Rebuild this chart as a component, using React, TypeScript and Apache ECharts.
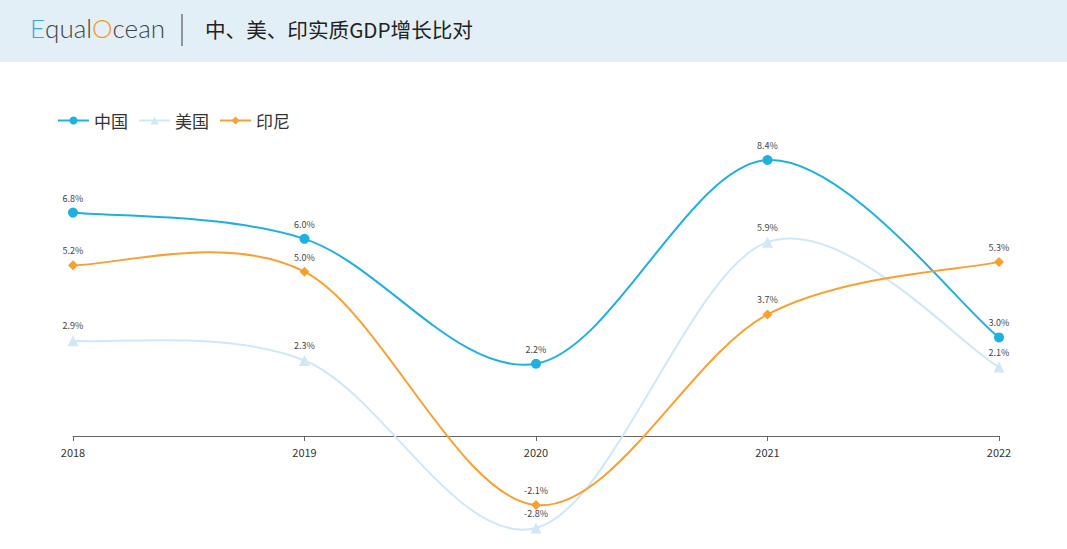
import React, { useEffect, useRef } from "react";
import * as echarts from "echarts";

const years = ["2018", "2019", "2020", "2021", "2022"];
const china = [6.8, 6.0, 2.2, 8.4, 3.0];
const usa = [2.9, 2.3, -2.8, 5.9, 2.1];
const indonesia = [5.2, 5.0, -2.1, 3.7, 5.3];
const seriesNames = ["中国", "美国", "印尼"];
const title = "中、美、印实质GDP增长比对";

const colors = ["#1fb0e0", "#cfe8f5", "#f8a030"];
const symbols = ["circle", "triangle", "diamond"];
const symbolSizes = [10, 11, 10];

export default function App() {
  const ref = useRef<HTMLDivElement>(null);
  useEffect(() => {
    const chart = echarts.init(ref.current!, null, { renderer: "svg" });
    const font = "'Noto Sans CJK SC', 'Open Sans', sans-serif";
    const label = {
      show: true,
      position: "top" as const,
      fontSize: 9,
      color: "#444",
      fontFamily: font,
      formatter: (p: any) => p.value.toFixed(1) + "%",
    };
    const yMin = -3;
    const yMax = 9;
    const gridTop = 140.3;
    const gridBottom = 14.4;
    const gridH = 549 - gridTop - gridBottom;
    const zeroOffset = (gridH * (0 - yMin)) / (yMax - yMin);
    const allData = [china, usa, indonesia];

    const curveSeries = allData.map((vals, s) => ({
      name: seriesNames[s] + "-curve",
      type: "custom",
      z: 1,
      silent: true,
      clip: false,
      data: vals.slice(0, -1).map((_, i) => [i]),
      encode: { x: 0 },
      renderItem: (params: any, api: any) => {
        const i = api.value(0);
        const pts = vals.map((v, k) => api.coord([k, v]));
        const n = pts.length;
        const p0 = pts[Math.max(i - 1, 0)];
        const p1 = pts[i];
        const p2 = pts[i + 1];
        const p3 = pts[Math.min(i + 2, n - 1)];
        return {
          type: "bezierCurve",
          shape: {
            x1: p1[0],
            y1: p1[1],
            x2: p2[0],
            y2: p2[1],
            cpx1: p1[0] + (p2[0] - p0[0]) / 6,
            cpy1: p1[1] + (p2[1] - p0[1]) / 6,
            cpx2: p2[0] - (p3[0] - p1[0]) / 6,
            cpy2: p2[1] - (p3[1] - p1[1]) / 6,
          },
          style: { stroke: colors[s], lineWidth: 2, fill: null },
        };
      },
    }));

    const pointSeries = allData.map((vals, s) => ({
      name: seriesNames[s],
      type: "line",
      z: 3,
      data: vals,
      symbol: symbols[s],
      symbolSize: symbolSizes[s],
      itemStyle: { color: colors[s] },
      lineStyle: { color: colors[s], width: 2, opacity: 0 },
      label,
    }));

    chart.setOption({
      animation: false,
      backgroundColor: "#fff",
      textStyle: { fontFamily: font },
      graphic: [
        { type: "rect", left: 0, top: 0, shape: { width: 1067, height: 62 }, style: { fill: "#e2eff7" }, silent: true },
        {
          type: "text",
          left: 30,
          top: 15,
          style: {
            text: "{e|E}{g|qual}{o|O}{g|cean}",
            rich: {
              e: { fontSize: 26, fontFamily: "Lato", fontWeight: 300, fill: "#3aa8e0" },
              g: { fontSize: 26, fontFamily: "Lato", fontWeight: 300, fill: "#444" },
              o: { fontSize: 26, fontFamily: "Lato", fontWeight: 300, fill: "#f39a2b" },
            },
          },
        },
        { type: "line", shape: { x1: 182, y1: 14, x2: 182, y2: 46 }, style: { stroke: "#777", lineWidth: 1.5 } },
        {
          type: "text",
          left: 205,
          top: 19,
          style: { text: title, fontSize: 20.6, fill: "#222", fontFamily: "'Noto Sans CJK SC', sans-serif" },
        },
      ],
      legend: {
        left: 52,
        top: 107,
        itemWidth: 31,
        itemHeight: 10,
        itemGap: 10,
        textStyle: { fontSize: 17, color: "#333", fontFamily: "'Noto Sans CJK SC', sans-serif" },
        data: seriesNames.map((name, s) => ({
          name,
          lineStyle: { color: colors[s], width: 2, opacity: 1 },
        })),
      },
      grid: { left: 73, right: 68, top: gridTop, bottom: gridBottom, containLabel: false, outerBoundsMode: "none" },
      xAxis: {
        type: "category",
        data: years,
        boundaryGap: false,
        offset: -zeroOffset,
        axisLine: { onZero: false, lineStyle: { color: "#666", width: 1 } },
        axisTick: { show: true, alignWithLabel: true, lineStyle: { color: "#666" } },
        axisLabel: { fontSize: 11, color: "#333", margin: 10 },
      },
      yAxis: {
        type: "value",
        min: yMin,
        max: yMax,
        show: false,
        splitLine: { show: false },
      },
      series: [...curveSeries, ...pointSeries],
    });
    return () => chart.dispose();
  }, []);
  return <div ref={ref} style={{ position: "fixed", left: 0, top: 0, width: 1067, height: 549 }} />;
}
